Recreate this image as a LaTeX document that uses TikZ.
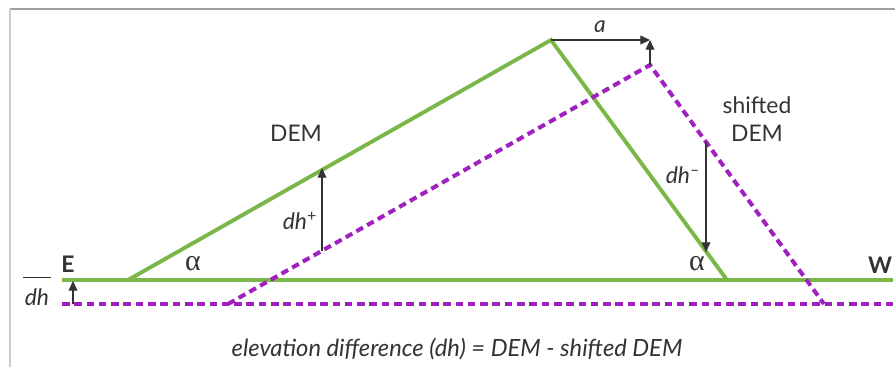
\documentclass[tikz,border=0pt]{standalone}
\usepackage{fontspec}
\setmainfont{Lato}
\newfontfamily\anglefont{Liberation Serif}
\usetikzlibrary{arrows.meta,calc}
\definecolor{demgreen}{HTML}{7AB648}
\definecolor{shiftpurple}{HTML}{A020C0}
\definecolor{inkgray}{HTML}{333333}

\begin{document}
\begin{tikzpicture}[x=0.02cm,y=-0.02cm, every node/.style={font=\fontsize{13}{15}\selectfont, text=inkgray},
    demline/.style={demgreen, line width=2.2pt},
    shiftline/.style={shiftpurple, line width=2.3pt, dash pattern=on 4.3pt off 2.7pt},
    measure/.style={inkgray, line width=0.7pt, -{Triangle[length=5.5pt,width=5pt]}},
    anglelabel/.style={font=\anglefont\fontsize{17}{19}\selectfont}]
    \useasboundingbox (0,0) rectangle (895,367);
    \draw[gray!75, line width=0.6pt] (10,9) -- (895,9);
    \draw[gray!40, line width=1pt] (10,9) -- (10,367);
    % DEM (green)
    \coordinate (gw) at (62,280);
    \coordinate (ge) at (893,280);
    \coordinate (gfoot1) at (128,280);
    \coordinate (gpeak) at (551,40);
    \coordinate (gfoot2) at (727,280);
    \draw[demline] (gw) -- (ge);
    \draw[demline] (gfoot1) -- (gpeak) -- (gfoot2);
    % shifted DEM (purple, dashed)
    \coordinate (pw) at (62,304);
    \coordinate (pe) at (893,304);
    \coordinate (pfoot1) at (228,304);
    \coordinate (ppeak) at (650,65);
    \coordinate (pfoot2) at (824,304);
    \draw[shiftline] (pw) -- (pe);
    \draw[shiftline] (pfoot1) -- (ppeak) -- (pfoot2);
    % shift a
    \coordinate (atip) at (650,40);
    \draw[measure] (gpeak) -- (atip);
    \draw[measure] (ppeak) -- (atip);
    \node (alabel) at (600,27) {\textit{a}};
    % dh+ and dh-
    \coordinate (dhpbot) at (322,251);
    \coordinate (dhptop) at (322,168);
    \draw[measure] (dhpbot) -- (dhptop);
    \node (dhplus) at (300,221) {\textit{dh}\textsuperscript{+}};
    \coordinate (dhmtop) at (706,142);
    \coordinate (dhmbot) at (706,252);
    \draw[measure] (dhmtop) -- (dhmbot);
    \node (dhminus) at (683,175) {\textit{dh}\textsuperscript{\textendash}};
    % mean dh
    \coordinate (dhbot) at (73,304);
    \coordinate (dhtop) at (73,281);
    \draw[measure] (dhbot) -- (dhtop);
    \node[inner sep=1pt] (dhmean) at (37,297) {\textit{dh}};
    \draw[inkgray, line width=0.7pt] ([yshift=5pt]dhmean.north west) -- ([yshift=5pt]dhmean.north east);
    % labels
    \node (east) at (68,264) {\textbf{E}};
    \node (west) at (880,265) {\textbf{W}};
    \node[anglelabel] (alpha1) at (193,264) {α};
    \node[anglelabel] (alpha2) at (697,264) {α};
    \node (dem) at (296,133) {DEM};
    \node[align=center, font=\fontsize{13}{16}\selectfont] (sdem) at (757,119) {shifted\\DEM};
    \node[font=\fontsize{13.5}{16}\selectfont] (caption) at (457,349) {\textit{elevation difference (dh) = DEM - shifted DEM}};
\end{tikzpicture}
\end{document}
